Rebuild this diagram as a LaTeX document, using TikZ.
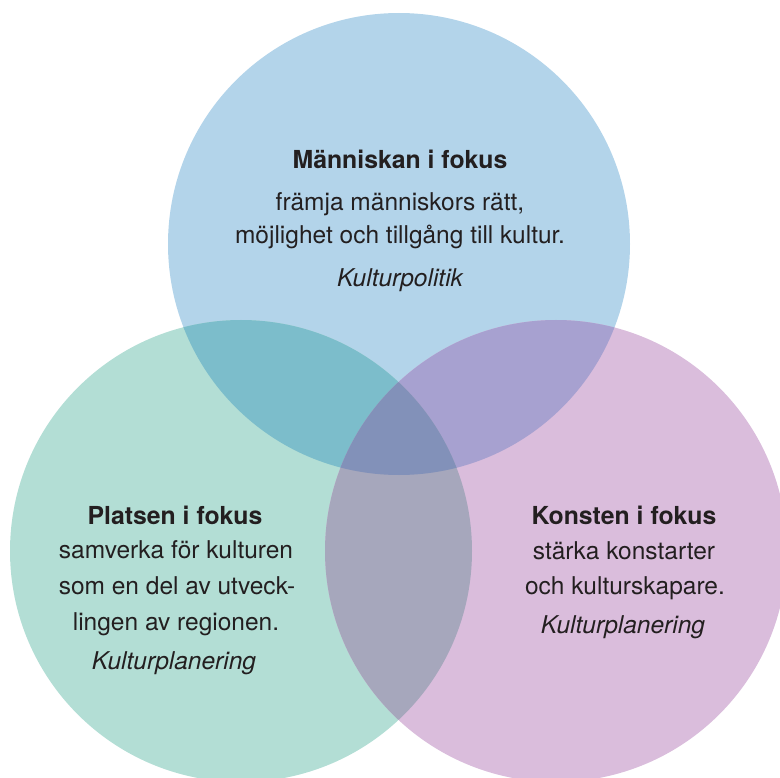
\documentclass[tikz,border=0pt]{standalone}
\usepackage{fontspec}
\setmainfont{TeX Gyre Heros}
\definecolor{cTop}{HTML}{B3D4EA}
\definecolor{cLeft}{HTML}{B3DED5}
\definecolor{cRight}{HTML}{DABDDC}
\definecolor{cTL}{HTML}{7CBDCB}
\definecolor{cTR}{HTML}{A7A1D0}
\definecolor{cLR}{HTML}{A6A7BC}
\definecolor{cAll}{HTML}{8291B9}
\definecolor{textc}{HTML}{231F20}
\begin{document}
\begin{tikzpicture}[x=1pt,y=-1pt,
  txt/.style={text=textc, font=\fontsize{24.5}{28}\selectfont, inner sep=0pt, anchor=base},
  ttl/.style={txt, font=\fontsize{24.8}{28}\selectfont\bfseries},
  src/.style={txt, font=\fontsize{24.5}{28}\selectfont\itshape}]
\useasboundingbox (0,0) rectangle (780,778);
\clip (0,0) rectangle (780,778);
\def\ctop{(399,244) circle[radius=231pt]}
\def\cleft{(241,551) circle[radius=231pt]}
\def\cright{(556,551) circle[radius=231pt]}
\fill[cTop] \ctop;
\fill[cLeft] \cleft;
\fill[cRight] \cright;
\begin{scope}\clip \ctop; \fill[cTL] \cleft; \fill[cTR] \cright;\end{scope}
\begin{scope}\clip \cleft; \fill[cLR] \cright;\end{scope}
\begin{scope}\clip \ctop; \clip \cleft; \fill[cAll] \cright;\end{scope}
% top
\node[ttl] (t1) at (400,169) {Människan i fokus};
\node[txt] (t2) at (400,211) {främja människors rätt,};
\node[txt] (t3) at (400,244) {möjlighet och tillgång till kultur.};
\node[src] (t4) at (400,287) {Kulturpolitik};
% left
\node[ttl] (l1) at (175,524) {Platsen i fokus};
\node[txt] (l2) at (176,558) {samverka för kulturen};
\node[txt] (l3) at (177,594) {som en del av utveck-};
\node[txt] (l4) at (176,630) {lingen av regionen.};
\node[src] (l5) at (174,669) {Kulturplanering};
% right
\node[ttl] (r1) at (624,524) {Konsten i fokus};
\node[txt] (r2) at (624,559) {stärka konstarter};
\node[txt] (r3) at (625,594) {och kulturskapare.};
\node[src] (r4) at (623,633) {Kulturplanering};
\end{tikzpicture}
\end{document}
